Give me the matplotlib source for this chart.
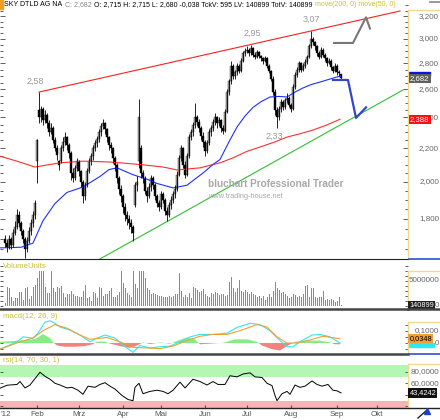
import numpy as np
import matplotlib.pyplot as plt
from matplotlib.lines import Line2D
from matplotlib.patches import Rectangle
from matplotlib.ticker import FixedLocator, NullFormatter
from matplotlib.transforms import blended_transform_factory

plt.rcParams['font.family'] = ['Liberation Sans', 'DejaVu Sans']

# x = Handelstag seit 2.1.2012 (0)
first_day = 6
opens = [1.70, 1.68, 1.66, 1.70, 1.67, 1.73, 1.76, 1.82, 1.78, 1.74,
         1.70, 1.65, 1.69, 1.74, 1.78, 1.82, 2.12, 2.45, 2.40, 2.46,
         2.38, 2.42, 2.36, 2.30, 2.33, 2.25, 2.20, 2.12, 2.12, 2.20,
         2.24, 2.27, 2.22, 2.17, 2.05, 2.02, 2.08, 2.12, 2.06, 2.00,
         1.92, 1.98, 2.06, 2.12, 2.15, 2.20, 2.23, 2.26, 2.30, 2.34,
         2.36, 2.32, 2.27, 2.22, 2.20, 2.14, 2.10, 2.02, 1.96, 1.92,
         1.86, 1.82, 1.80, 1.78, 1.76, 1.87, 1.98, 2.12, 2.20, 2.05,
         2.02, 1.95, 1.92, 1.97, 2.02, 1.98, 1.92, 1.88, 1.86, 1.93,
         1.90, 1.84, 1.82, 1.87, 1.90, 1.93, 1.96, 2.04, 2.14, 2.20,
         2.10, 2.04, 2.15, 2.27, 2.30, 2.35, 2.40, 2.37, 2.33, 2.28,
         2.24, 2.18, 2.23, 2.30, 2.33, 2.37, 2.40, 2.36, 2.38, 2.33,
         2.31, 2.44, 2.58, 2.66, 2.78, 2.70, 2.73, 2.78, 2.74, 2.82,
         2.88, 2.90, 2.91, 2.88, 2.92, 2.87, 2.85, 2.89, 2.86, 2.84,
         2.82, 2.84, 2.78, 2.74, 2.68, 2.58, 2.45, 2.40, 2.46, 2.51,
         2.47, 2.52, 2.54, 2.49, 2.46, 2.62, 2.71, 2.75, 2.80, 2.75,
         2.78, 2.81, 2.85, 2.94, 3.00, 2.97, 2.94, 2.88, 2.85, 2.91,
         2.87, 2.84, 2.80, 2.82, 2.77, 2.74, 2.78, 2.73, 2.715]
highs = [1.72, 1.70, 1.72, 1.71, 1.75, 1.79, 1.85, 1.84, 1.79, 1.75,
         1.71, 1.71, 1.76, 1.80, 1.84, 1.90, 2.26, 2.58, 2.48, 2.47,
         2.45, 2.43, 2.38, 2.36, 2.34, 2.27, 2.22, 2.13, 2.22, 2.27,
         2.30, 2.28, 2.23, 2.18, 2.08, 2.10, 2.14, 2.13, 2.07, 2.01,
         2.00, 2.08, 2.14, 2.17, 2.22, 2.25, 2.28, 2.32, 2.36, 2.39,
         2.37, 2.33, 2.28, 2.24, 2.21, 2.15, 2.11, 2.03, 1.98, 1.93,
         1.88, 1.84, 1.82, 1.80, 1.77, 2.00, 2.03, 2.53, 2.22, 2.07,
         2.03, 1.97, 1.99, 2.04, 2.03, 1.99, 1.93, 1.90, 1.95, 1.94,
         1.91, 1.86, 1.89, 1.92, 1.95, 1.98, 2.06, 2.16, 2.22, 2.21,
         2.12, 2.17, 2.29, 2.32, 2.37, 2.50, 2.42, 2.39, 2.34, 2.30,
         2.25, 2.25, 2.32, 2.35, 2.39, 2.43, 2.41, 2.40, 2.39, 2.35,
         2.46, 2.60, 2.68, 2.82, 2.79, 2.75, 2.80, 2.79, 2.84, 2.90,
         2.92, 2.94, 2.92, 2.95, 2.93, 2.89, 2.91, 2.90, 2.87, 2.85,
         2.86, 2.85, 2.79, 2.75, 2.70, 2.60, 2.47, 2.48, 2.53, 2.52,
         2.54, 2.57, 2.55, 2.50, 2.64, 2.73, 2.77, 2.82, 2.81, 2.80,
         2.83, 2.87, 2.96, 3.07, 3.02, 2.98, 2.95, 2.90, 2.93, 2.92,
         2.88, 2.85, 2.84, 2.83, 2.78, 2.80, 2.79, 2.75, 2.715]
lows = [1.66, 1.64, 1.65, 1.65, 1.66, 1.72, 1.75, 1.76, 1.72, 1.68,
        1.61, 1.64, 1.68, 1.72, 1.76, 1.80, 1.99, 2.36, 2.37, 2.35,
        2.36, 2.33, 2.28, 2.29, 2.23, 2.18, 2.13, 2.07, 2.11, 2.18,
        2.22, 2.19, 2.14, 2.01, 2.00, 2.01, 2.06, 2.03, 1.97, 1.88,
        1.90, 1.97, 2.05, 2.10, 2.13, 2.18, 2.21, 2.24, 2.28, 2.32,
        2.29, 2.24, 2.19, 2.17, 2.11, 2.06, 1.99, 1.93, 1.89, 1.83,
        1.79, 1.77, 1.75, 1.73, 1.69, 1.86, 1.95, 2.08, 2.02, 1.99,
        1.93, 1.89, 1.91, 1.95, 1.96, 1.90, 1.86, 1.84, 1.85, 1.88,
        1.82, 1.79, 1.81, 1.85, 1.88, 1.91, 1.95, 2.03, 2.12, 2.08,
        2.02, 2.03, 2.14, 2.25, 2.28, 2.33, 2.34, 2.30, 2.25, 2.21,
        2.15, 2.17, 2.22, 2.28, 2.31, 2.35, 2.33, 2.34, 2.30, 2.29,
        2.30, 2.43, 2.56, 2.64, 2.68, 2.68, 2.71, 2.72, 2.73, 2.81,
        2.86, 2.88, 2.86, 2.87, 2.85, 2.83, 2.84, 2.84, 2.82, 2.79,
        2.81, 2.76, 2.72, 2.66, 2.56, 2.42, 2.33, 2.38, 2.44, 2.45,
        2.46, 2.50, 2.47, 2.44, 2.45, 2.60, 2.69, 2.73, 2.73, 2.74,
        2.76, 2.79, 2.84, 2.92, 2.95, 2.91, 2.86, 2.83, 2.84, 2.85,
        2.82, 2.78, 2.79, 2.75, 2.72, 2.73, 2.71, 2.70, 2.68]
closes = [1.68, 1.66, 1.70, 1.67, 1.73, 1.76, 1.82, 1.78, 1.74, 1.70,
          1.65, 1.69, 1.74, 1.78, 1.82, 1.88, 2.25, 2.40, 2.46, 2.38,
          2.42, 2.36, 2.30, 2.33, 2.25, 2.20, 2.16, 2.10, 2.20, 2.24,
          2.27, 2.22, 2.17, 2.05, 2.02, 2.08, 2.12, 2.06, 2.00, 1.92,
          1.98, 2.06, 2.12, 2.15, 2.20, 2.23, 2.26, 2.30, 2.34, 2.36,
          2.32, 2.27, 2.22, 2.20, 2.14, 2.10, 2.02, 1.96, 1.92, 1.86,
          1.82, 1.80, 1.78, 1.76, 1.73, 1.98, 2.00, 2.40, 2.05, 2.02,
          1.95, 1.92, 1.97, 2.02, 1.98, 1.92, 1.88, 1.86, 1.93, 1.90,
          1.84, 1.82, 1.87, 1.90, 1.93, 1.96, 2.04, 2.14, 2.20, 2.10,
          2.04, 2.15, 2.27, 2.30, 2.35, 2.40, 2.37, 2.33, 2.28, 2.24,
          2.18, 2.23, 2.30, 2.33, 2.37, 2.40, 2.36, 2.38, 2.33, 2.31,
          2.44, 2.58, 2.66, 2.78, 2.70, 2.73, 2.78, 2.74, 2.82, 2.88,
          2.90, 2.91, 2.88, 2.92, 2.87, 2.85, 2.89, 2.86, 2.84, 2.82,
          2.84, 2.78, 2.74, 2.68, 2.58, 2.45, 2.40, 2.46, 2.51, 2.47,
          2.52, 2.54, 2.49, 2.46, 2.62, 2.71, 2.75, 2.80, 2.75, 2.78,
          2.81, 2.85, 2.94, 3.00, 2.97, 2.94, 2.88, 2.85, 2.91, 2.87,
          2.84, 2.80, 2.82, 2.77, 2.74, 2.78, 2.73, 2.72, 2.682]
# Volumen in Mio. Stueck
volumes = [0.48, 3.72, 3.52, 1.83, 0.96, 1.50, 1.63, 2.71, 2.85, 1.16, 3.52,
           3.72, 1.36, 2.03, 3.86, 4.20, 5.55, 7.03, 7.03, 7.03, 3.86,
           2.51, 2.64, 7.03, 3.52, 2.71, 3.86, 3.52, 3.99, 2.51, 1.83,
           2.30, 2.30, 3.05, 2.30, 2.03, 2.03, 1.83, 1.70, 3.05,
           4.20, 1.50, 1.70, 0.96, 2.71, 2.51, 1.63, 3.72, 3.52, 2.03,
           2.30, 2.30, 3.05, 3.66, 1.83, 1.83, 2.17, 2.85, 7.03, 4.53,
           3.52, 2.64, 2.17, 1.83, 7.03, 4.33, 3.52, 7.03, 7.03,
           7.03, 5.55, 3.52, 3.18, 2.30, 2.51, 2.30, 2.17, 2.03,
           1.97, 1.70, 1.83, 1.83, 2.03, 1.83, 2.03, 2.30, 2.30, 6.69,
           2.98, 1.83, 2.17, 1.83, 2.51, 1.63, 3.86, 3.52, 3.18,
           2.71, 2.98, 3.39, 2.37, 2.03, 1.83, 2.64, 2.30, 2.85,
           2.51, 2.17, 2.30, 2.30, 2.03, 2.17, 4.74, 5.88, 3.52,
           2.85, 3.52, 5.21, 2.98, 2.85, 3.18, 2.71, 2.30, 2.71,
           2.30, 2.17, 1.83, 2.03, 1.63, 2.03, 1.16, 1.83, 2.30,
           1.83, 2.98, 4.74, 3.52, 3.18, 2.51, 2.71, 2.30, 2.03,
           1.63, 1.83, 2.30, 2.17, 1.83, 2.03, 1.83, 2.30, 4.06,
           4.20, 1.83, 3.66, 3.52, 1.83, 1.63, 1.83, 1.83, 2.98,
           1.16, 1.36, 1.16, 1.36, 1.16, 0.82, 0.96, 1.83, 0.14]

ma200_days = [3.5, 12, 21, 33.5, 45, 58.5, 73.5, 85, 92, 103.5, 110, 113.5,
              120, 127, 133.5, 140, 147, 153, 160, 167, 173.5]
ma200_vals = [2.15, 2.12, 2.085, 2.11, 2.12, 2.115, 2.10, 2.085, 2.068, 2.08,
              2.10, 2.11, 2.14, 2.18, 2.207, 2.235, 2.27, 2.29, 2.316, 2.35, 2.388]
ma50_days = [3.5, 14, 20, 25, 31, 37, 45, 53.5, 58, 62, 70, 78, 82, 90, 97,
             105, 110, 113.5, 118, 122, 126, 130, 134, 138.5, 143, 147, 151,
             155, 159, 163.5, 168, 172, 174]
ma50_vals = [1.657, 1.66, 1.68, 1.79, 1.88, 1.94, 1.97, 2.03, 2.07, 2.08, 2.04,
             2.01, 1.99, 1.965, 1.98, 2.05, 2.10, 2.13, 2.24, 2.336, 2.41, 2.47,
             2.51, 2.544, 2.548, 2.544, 2.58, 2.61, 2.635, 2.654, 2.675, 2.693, 2.70]

macd_days = [3.5, 12, 15, 20, 22.5, 26, 28.5, 31, 33.5, 38.5, 43.5, 48.5, 52,
             56, 61, 65, 70, 73.5, 78.5, 83.5, 88.5, 93.5, 98.5, 103.5, 110,
             117, 122, 128.5, 133.5, 138.5, 143.5, 147, 150, 153.5, 159.5,
             163.5, 168.5, 173.5]
macd_vals = [-0.05, 0.01, 0.05, 0.04, 0.08, 0.17, 0.18, 0.16, 0.13, 0.105,
             0.065, 0.01, 0.04, 0.065, 0.04, -0.016, -0.076, -0.02, -0.04,
             -0.03, -0.025, 0.01, 0.05, 0.07, 0.07, 0.08, 0.127, 0.16, 0.15,
             0.10, 0.02, -0.03, -0.03, 0.01, 0.065, 0.07, 0.05, 0.0]
signal_days = [3.5, 13.5, 20, 25, 31, 37, 43.5, 48.5, 57, 63.5, 70, 77, 83.5,
               90, 97, 103.5, 110, 117, 123.5, 132, 137, 142, 147, 152, 158.5,
               165, 173.5]
signal_vals = [-0.05, 0.01, 0.04, 0.10, 0.15, 0.12, 0.065, 0.03, 0.045, 0.01,
               -0.035, -0.04, -0.045, -0.025, 0.02, 0.055, 0.07, 0.07, 0.10,
               0.15, 0.13, 0.05, 0.0, 0.0, 0.025, 0.055, 0.0348]
hist_days = [3.5, 8.5, 13.5, 18.5, 22, 25, 28.5, 30.5, 32, 36, 41, 46, 50, 52,
             56, 58.5, 63.5, 68.5, 72, 75, 78.5, 83.5, 88.5, 92.5, 97, 101,
             103.5, 108.5, 115, 121, 127, 132, 134.5, 139.5, 143.5, 147.5,
             151, 156, 163.5, 168.5, 171, 173.5]
hist_vals = [0.01, 0.015, 0.02, 0.025, 0.04, 0.073, 0.04, 0.0, -0.02, -0.03,
             -0.03, -0.025, -0.01, 0.012, 0.012, -0.005, -0.025, -0.04, -0.02,
             0.005, -0.008, 0.005, -0.005, 0.02, 0.045, 0.03, -0.01, -0.005,
             0.002, 0.03, 0.03, 0.01, -0.02, -0.05, -0.06, -0.02, 0.01, 0.02,
             0.02, 0.005, -0.01, -0.01]

rsi_days = [3.5, 7, 12, 13.5, 16, 18.5, 23.5, 26, 28.5, 31, 33.5, 37, 39.5,
            42.5, 45, 47.5, 51, 53.5, 56, 58.5, 61, 64.5, 67.5, 70, 71, 73, 75,
            78.5, 82, 85, 87.5, 90, 93.5, 96, 100, 103.5, 107, 110, 112.5, 116,
            118.5, 122, 125, 128.5, 131, 134.5, 137, 139.5, 141, 142, 144.5,
            147, 148.5, 151, 153.5, 156, 159.5, 162, 164.5, 167.5, 170, 172, 174]
rsi_vals = [51.5, 56.6, 58, 63, 52, 57, 79, 72, 67, 60, 57, 52, 53, 48, 41, 55,
            53, 58, 61, 55, 50, 39, 32, 30, 53, 60, 42, 46, 48, 46, 42, 48, 62,
            52, 67, 63, 57, 63, 58, 58, 73, 71, 76, 78, 71, 70, 60, 56, 39, 30,
            42, 46, 41, 57, 53, 55, 64, 58, 55, 58, 48, 47, 43.4242]

# Trendlinien und Zeichnungen
upper_days, upper_vals = [23, 203.5], [2.58, 3.248]
lower_days, lower_vals = [52.5, 205], [1.601, 2.595]
arrow_up_days, arrow_up_vals = [170.5, 180, 186.5, 188.5], [2.966, 2.966, 3.19, 3.09]
arrow_dn_days, arrow_dn_vals = [170, 177.5, 181.5, 186.5], [2.67, 2.67, 2.397, 2.47]
marks = [(23, 2.58, '2,58', -3, 8), (129, 2.95, '2,95', 1, 8),
         (159, 3.07, '3,07', 0, 8), (142, 2.33, '2,33', -2, -6)]

month_idx = [22, 43, 65, 84, 106, 127, 149, 172, 192]
month_lab = ['Feb', 'Mrz', 'Apr', 'Mai', 'Jun', 'Jul', 'Aug', 'Sep', 'Okt']

price_ticks = [1.8, 2.0, 2.2, 2.4, 2.6, 2.8, 3.0, 3.2]
last_vol = 140899

days = np.arange(first_day, first_day + len(closes))
W, H = 440, 420


def rect(y0, y1):
    return [0, 1 - y1 / H, 408 / W, (y1 - y0) / H]


def de(v, n):
    return f"{v:.{n}f}".replace('.', ',')


def fig_line(x0, y0, x1, y1, color, lw=1.0):
    fig.lines.append(Line2D([x0 / W, x1 / W], [1 - y0 / H, 1 - y1 / H],
                            transform=fig.transFigure, color=color, lw=lw))


fig = plt.figure(figsize=(W / 100, H / 100), dpi=100)
ax = fig.add_axes(rect(0, 259))
axv = fig.add_axes(rect(261, 309), sharex=ax)
axm = fig.add_axes(rect(311, 354), sharex=ax)
axr = fig.add_axes(rect(356, 408), sharex=ax)

for a in (ax, axv, axm, axr):
    for s in ('top', 'left'):
        a.spines[s].set_visible(False)
    a.spines['right'].set_color('#f2d98c')
    a.spines['right'].set_linewidth(1)
    a.spines['bottom'].set_color('#222222')
    a.tick_params(axis='x', which='both', bottom=False, labelbottom=False)
    a.tick_params(axis='y', which='both', left=True, right=True, direction='in',
                  labelleft=False, labelright=False, colors='#444444',
                  length=2, width=0.6)
axv.spines['bottom'].set_linewidth(1.8)
axm.spines['bottom'].set_linewidth(1.8)
axv.spines['bottom'].set_color('#444444')
axm.spines['bottom'].set_color('#444444')

small = dict(fontsize=5.8, color='#666666')
box = dict(boxstyle='square,pad=0.15', ec='none')

# Kurs
ax.set_yscale('log')
ax.set_xlim(3.5, 207.5)
ax.set_ylim(1.6056, 3.351)
ax.spines['right'].set_bounds(1.6056, 3.257)
ax.yaxis.set_major_locator(FixedLocator(price_ticks))
ax.yaxis.set_minor_locator(FixedLocator(np.arange(1.65, 3.35, 0.05)))
ax.yaxis.set_major_formatter(NullFormatter())
ax.yaxis.set_minor_formatter(NullFormatter())
ax.tick_params(axis='y', which='major', length=3.5)

ax.plot(ma200_days, ma200_vals, color='#ff3030', lw=0.8)
ax.plot(ma50_days, ma50_vals, color='#2030ff', lw=0.8)
ax.plot(upper_days, upper_vals, color='#ff2020', lw=0.8)
ax.plot(lower_days, lower_vals, color='#30c030', lw=0.8)

o = np.array(opens)
c = np.array(closes)
up = c >= o
ax.vlines(days, lows, highs, color='black', lw=0.6)
ax.bar(days[up], c[up] - o[up], bottom=o[up], width=0.8, color='#9a9a9a',
       edgecolor='#222222', linewidth=0.3)
ax.bar(days[~up], o[~up] - c[~up], bottom=c[~up], width=0.8, color='black',
       edgecolor='black', linewidth=0.3)

ax.plot(arrow_up_days, arrow_up_vals, color='#777777', lw=1.5)
ax.plot(arrow_dn_days, arrow_dn_vals, color='#3347c9', lw=1.6)

for d, v, t, dx, dy in marks:
    ax.annotate(t, (d, v), xytext=(dx, dy), textcoords='offset points',
                ha='center', va='center', fontsize=6.5, color='#9a9a9a')

fig.text(208 / W, 1 - 184 / H, 'bluchart Professional Trader', fontsize=7.2,
         color='#a8a8a8', va='center', fontweight='bold')
fig.text(208 / W, 1 - 196 / H, 'www.trading-house.net', fontsize=5.3,
         color='#a8a8a8', va='center')

tr = blended_transform_factory(fig.transFigure, ax.transData)
for v in price_ticks:
    ax.text(439 / W, v, de(v, 3), transform=tr, ha='right', va='center', **small)
# Kursmarker rechts: MA50 (verdeckt), Schlusskurs, MA200
ax.add_patch(Rectangle((409 / W, ma50_vals[-1]), 21 / W, 0.035, transform=tr,
                       color='#1010e0', clip_on=False))
ax.text(410 / W, closes[-1], de(closes[-1], 3), transform=tr, va='center',
        fontsize=5.6, color='white', bbox=dict(box, fc='#606060'))
ax.text(410 / W, ma200_vals[-1], de(ma200_vals[-1], 3), transform=tr,
        va='center', fontsize=5.6, color='white', bbox=dict(box, fc='#ff1010'))

# Titelzeile
fig.patches.append(Rectangle((0, 1 - 9 / H), 3 / W, 9 / H, transform=fig.transFigure,
                             color='#f0a020'))
title_parts = [('SKY DTLD AG NA', 'black'), ('C: 2,682', '#888888'),
               ('O: 2,715 H: 2,715 L: 2,680 -0,038 TckV: 595 LV: 140899 TotV: 140899', 'black'),
               ('move(200, 0) move(50, 0)', '#c8c030')]
renderer = fig.canvas.get_renderer()
xpos = 4
for t, col in title_parts:
    txt = fig.text(xpos / W, 1 - 5 / H, t, fontsize=5.0, color=col, va='center')
    xpos += txt.get_window_extent(renderer).width + 2.5
fig_line(430, 2, 440, 2, '#888888', 1.2)

# Volumen
vol = np.array(volumes) * 1e6
axv.bar(days, vol, width=0.5, color='#8a8a8a')
axv.set_ylim(-0.67e6, 9.05e6)
axv.spines['right'].set_bounds(-0.67e6, 7.03e6)
axv.yaxis.set_major_locator(FixedLocator([0, 5e6]))
axv.yaxis.set_minor_locator(FixedLocator(np.arange(0, 9e6, 1e6)))
axv.yaxis.set_major_formatter(NullFormatter())
trv = blended_transform_factory(fig.transFigure, axv.transData)
axv.text(439 / W, 5e6, '5000000', transform=trv, ha='right', va='center', **small)
axv.text(439 / W, 0, '0', transform=trv, ha='right', va='center', **small)
axv.text(409.5 / W, 0.1e6, str(last_vol), transform=trv, va='center', fontsize=5.3,
         color='white', bbox=dict(box, fc='#202020'))
axv.text(3 / W, 1 - 266 / H, 'VolumeUnits', transform=fig.transFigure,
         fontsize=5.6, color='#c8c030', va='center')

# MACD
hd = np.array(hist_days)
hv = np.array(hist_vals)
axm.fill_between(hd, hv, 0, where=hv >= 0, interpolate=True, color='#84ee84', lw=0)
axm.fill_between(hd, hv, 0, where=hv < 0, interpolate=True, color='#f58080', lw=0)
axm.plot(macd_days, macd_vals, color='#30e8f0', lw=0.8)
axm.plot(signal_days, signal_vals, color='#f0a030', lw=0.8)
axm.set_ylim(-0.089, 0.26)
axm.spines['right'].set_bounds(-0.089, 0.171)
axm.yaxis.set_major_locator(FixedLocator([0, 0.1]))
axm.yaxis.set_minor_locator(FixedLocator([-0.05, 0.05, 0.15]))
axm.yaxis.set_major_formatter(NullFormatter())
trm = blended_transform_factory(fig.transFigure, axm.transData)
axm.text(439 / W, 0.1, '0,1000', transform=trm, ha='right', va='center', **small)
axm.text(439 / W, 0, '0', transform=trm, ha='right', va='center', **small)
axm.add_patch(Rectangle((409 / W, -0.03), 25 / W, 0.03, transform=trm,
                        color='#30e8f0', clip_on=False))
axm.text(409.5 / W, signal_vals[-1], de(signal_vals[-1], 4), transform=trm,
         va='center', fontsize=5.3, color='black', bbox=dict(box, fc='#f0a030'))
axm.text(3 / W, 1 - 316 / H, 'macd(12, 26, 9)', transform=fig.transFigure,
         fontsize=5.6, color='#c8c030', va='center')

# RSI
axr.axhspan(70, 91, color='#b4f7b4', lw=0)
axr.axhspan(0, 30, color='#f7b4b4', lw=0)
axr.plot(rsi_days, rsi_vals, color='black', lw=0.7)
axr.set_ylim(17.4, 107)
axr.spines['right'].set_bounds(17.4, 93.3)
axr.yaxis.set_major_locator(FixedLocator([20, 40, 60, 80]))
axr.yaxis.set_major_formatter(NullFormatter())
trr = blended_transform_factory(fig.transFigure, axr.transData)
for v in (80, 60):
    axr.text(439 / W, v, de(v, 4), transform=trr, ha='right', va='center', **small)
axr.text(409.5 / W, rsi_vals[-1], de(rsi_vals[-1], 4), transform=trr, va='center',
         fontsize=5.3, color='white', bbox=dict(box, fc='#101010'))
axr.text(3 / W, 1 - 360 / H, 'rsi(14, 70, 30, 1)', transform=fig.transFigure,
         fontsize=5.6, color='#c8c030', va='center')

axr.spines['bottom'].set_linewidth(1)
axr.set_xticks(month_idx)
axr.set_xticklabels(month_lab)
axr.tick_params(axis='x', which='major', bottom=True, labelbottom=True,
                direction='in', length=2, pad=2.5, labelsize=5.8,
                colors='#555555')
fig.text(0.5 / W, 1 - 415 / H, "'12", ha='left', va='center', fontsize=5.8,
         color='#555555')

# Rahmen der Skalenbereiche rechts
for y in (10, 271, 322, 364):
    fig_line(408, y, 440, y, '#f2d98c', 1.0)
fig_line(409, 258.5, 440, 258.5, '#3050d0', 1.2)
fig_line(408, 309.3, 440, 309.3, '#444444', 1.8)
fig_line(409, 353.5, 440, 353.5, '#3050d0', 1.2)
fig_line(409, 408, 440, 408, '#222222', 1.0)
fig_line(418, 418, 427, 410, '#222222', 1.0)
fig.lines.append(Line2D([427 / W], [1 - 411 / H], transform=fig.transFigure,
                        marker='^', markersize=4, color='#2040d0', lw=0))

fig.savefig('out.png', dpi=100)
